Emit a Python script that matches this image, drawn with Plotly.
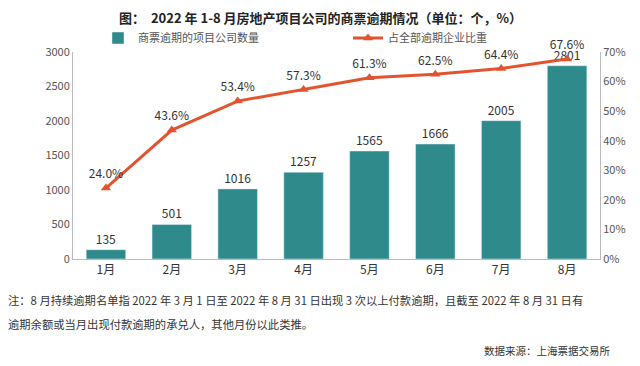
import plotly.graph_objects as go

months = ["1月", "2月", "3月", "4月", "5月", "6月", "7月", "8月"]
counts = [135, 501, 1016, 1257, 1565, 1666, 2005, 2801]
ratios = [24.0, 43.6, 53.4, 57.3, 61.3, 62.5, 64.4, 67.6]

FONT = "Noto Sans CJK SC"
BAR_C = "#2f8a8c"
LINE_C = "#e2542f"

OFF = 8  # page body margin
W, H = 640 - OFF, 366 - OFF
L, R, T, B = 73 - OFF, 40, 52 - OFF, 107


def px_to_paper(x, y):
    # x, y are screen pixels in the 640x366 window
    x -= OFF
    y -= OFF
    pw = W - L - R
    ph = H - T - B
    return (x - L) / pw, (H - B - y) / ph


fig = go.Figure()
fig.add_trace(go.Bar(
    x=months, y=counts, name="商票逾期的项目公司数量",
    marker_color=BAR_C, width=0.6,
    text=[str(v) for v in counts], textposition="outside",
    textfont=dict(size=12, color="#333333", family=FONT),
    cliponaxis=False, legend="legend",
))
fig.add_trace(go.Scatter(
    x=months, y=ratios, name="占全部逾期企业比重", yaxis="y2",
    mode="lines+markers+text",
    line=dict(color=LINE_C, width=3),
    marker=dict(symbol="triangle-up", size=9, color=LINE_C),
    text=[f"{v:.1f}%" for v in ratios], textposition="top center",
    textfont=dict(size=12, color="#333333", family=FONT),
    cliponaxis=False, legend="legend2",
))

l1x, l1y = px_to_paper(98, 38)
l2x, l2y = px_to_paper(348, 38)

anns = []
tx, ty = px_to_paper(320, 18)
anns.append(dict(text="<b>图：  2022 年 1-8 月房地产项目公司的商票逾期情况（单位：个，%）</b>",
                 x=tx, y=ty, xref="paper", yref="paper", showarrow=False,
                 yanchor="middle", xanchor="center",
                 font=dict(size=13, color="#222222", family=FONT)))
nx, ny = px_to_paper(6, 300)
anns.append(dict(text="注：8 月持续逾期名单指 2022 年 3 月 1 日至 2022 年 8 月 31 日出现 3 次以上付款逾期，且截至 2022 年 8 月 31 日有",
                 x=nx, y=ny, xref="paper", yref="paper", showarrow=False,
                 xanchor="left", yanchor="middle",
                 font=dict(size=11.3, color="#333333", family=FONT)))
nx2, ny2 = px_to_paper(6, 324)
anns.append(dict(text="逾期余额或当月出现付款逾期的承兑人，其他月份以此类推。",
                 x=nx2, y=ny2, xref="paper", yref="paper", showarrow=False,
                 xanchor="left", yanchor="middle",
                 font=dict(size=11.3, color="#333333", family=FONT)))
sx, sy = px_to_paper(612, 350)
anns.append(dict(text="数据来源：上海票据交易所",
                 x=sx, y=sy, xref="paper", yref="paper", showarrow=False,
                 xanchor="right", yanchor="middle",
                 font=dict(size=10.5, color="#333333", family=FONT)))

legend_common = dict(orientation="h", xanchor="left", yanchor="middle",
                     font=dict(size=11, color="#555555"),
                     bgcolor="rgba(0,0,0,0)")

fig.update_layout(
    width=W, height=H,
    margin=dict(l=L, r=R, t=T, b=B, autoexpand=False),
    paper_bgcolor="white", plot_bgcolor="white",
    font=dict(family=FONT, size=11, color="#555555"),
    showlegend=True,
    legend=dict(x=l1x, y=l1y, **legend_common),
    legend2=dict(x=l2x, y=l2y, **legend_common),
    xaxis=dict(showline=True, linecolor="#bbbbbb", ticks="", showgrid=False,
               tickfont=dict(size=12, color="#333333")),
    yaxis=dict(range=[0, 3000], dtick=500, showgrid=False, showline=True,
               linecolor="#bbbbbb", ticks="", zeroline=False,
               tickfont=dict(size=11, color="#555555")),
    yaxis2=dict(range=[0, 70], dtick=10, overlaying="y", side="right",
                showgrid=False, showline=True, linecolor="#bbbbbb", ticks="",
                ticksuffix="%", zeroline=False,
                tickfont=dict(size=11, color="#555555")),
    annotations=anns,
)

fig.write_html("out.html")
